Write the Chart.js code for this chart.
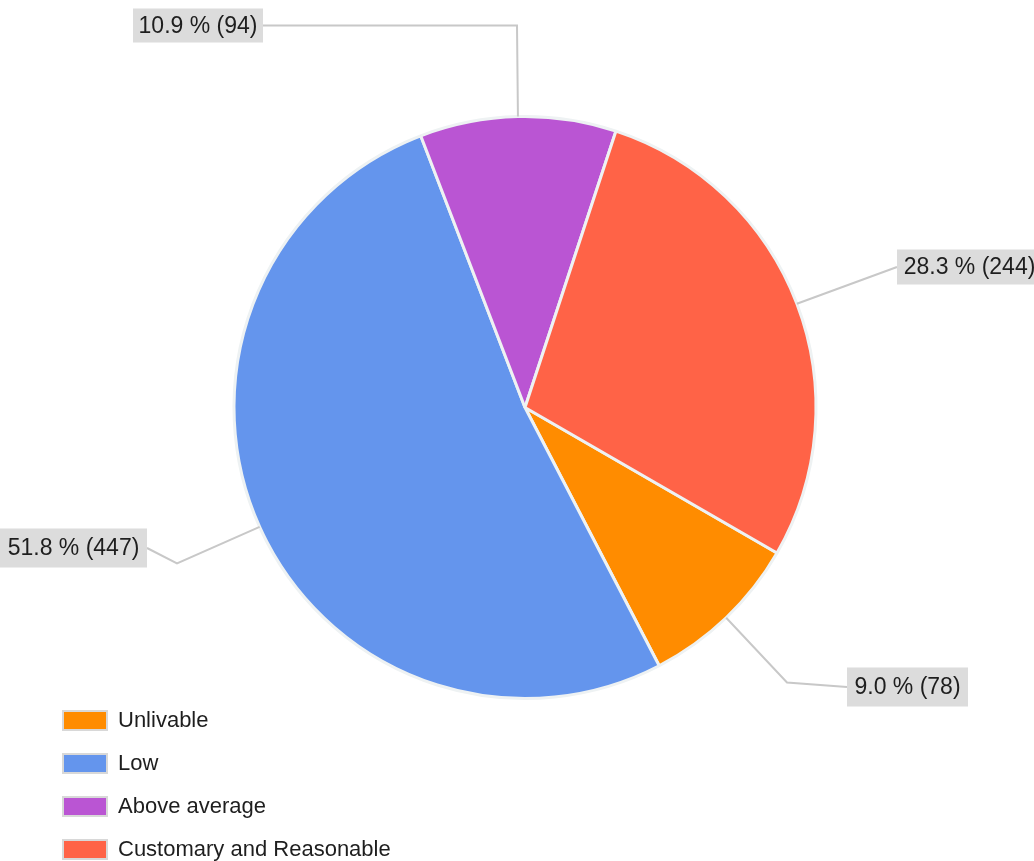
<!DOCTYPE html>
<html lang="en">
<head>
  <meta charset="UTF-8">
  <title>Pie chart</title>
  <script src="https://cdn.jsdelivr.net/npm/chart.js"></script>
  <style>
    body { margin: 0; background: #fff; }
  </style>
</head>
<body>
  <canvas id="myChart" width="1034" height="861"></canvas>
  <script>
    // data
    const categories = ['Unlivable', 'Low', 'Above average', 'Customary and Reasonable'];
    const counts = [78, 447, 94, 244];
    const percentLabels = ['9.0 %', '51.8 %', '10.9 %', '28.3 %'];
    const sliceColors = ['#FF8C00', '#6495ED', '#BA55D3', '#FF6347'];

    // where each outside label sits: elbow point and box, relative to the pie centre
    const labelLayout = [
      { elbow: [262, 275], box: [322, 260, 121, 39], side: 'left' },
      { elbow: [-348, 156], box: [-525, 121, 147, 39], side: 'right' },
      { elbow: [-8, -382], box: [-392, -399, 130, 34], side: 'right' },
      { elbow: null, box: [372, -158, 145, 35], side: 'left' }
    ];

    const labelPlugin = {
      id: 'outsideLabels',
      afterDatasetsDraw(chart) {
        const ctx = chart.ctx;
        const arcs = chart.getDatasetMeta(0).data;
        ctx.save();
        arcs.forEach((arc, i) => {
          const cx = arc.x, cy = arc.y;
          const mid = (arc.startAngle + arc.endAngle) / 2;
          const r = arc.outerRadius;
          const ax = cx + Math.cos(mid) * r;
          const ay = cy + Math.sin(mid) * r;
          const lay = labelLayout[i];
          const [bx, by, bw, bh] = lay.box;
          const boxX = cx + bx, boxY = cy + by;
          const endX = lay.side === 'left' ? boxX : boxX + bw;
          const endY = boxY + bh / 2;

          ctx.strokeStyle = '#c8c8c8';
          ctx.lineWidth = 2;
          ctx.beginPath();
          ctx.moveTo(ax, ay);
          if (lay.elbow) ctx.lineTo(cx + lay.elbow[0], cy + lay.elbow[1]);
          ctx.lineTo(endX, endY);
          ctx.stroke();

          ctx.fillStyle = '#dcdcdc';
          ctx.fillRect(boxX, boxY, bw, bh);
          ctx.fillStyle = '#1e1e1e';
          ctx.font = '23px "Liberation Sans", Arial, sans-serif';
          ctx.textBaseline = 'middle';
          ctx.textAlign = 'center';
          ctx.fillText(percentLabels[i] + ' (' + counts[i] + ')', boxX + bw / 2, endY + 1);
        });
        ctx.restore();
      }
    };

    const legendPlugin = {
      id: 'sideLegend',
      afterDraw(chart) {
        const ctx = chart.ctx;
        ctx.save();
        ctx.font = '22px "Liberation Sans", Arial, sans-serif';
        ctx.textBaseline = 'middle';
        ctx.textAlign = 'left';
        chart.data.labels.forEach((name, i) => {
          const y = 720 + i * 43;
          ctx.fillStyle = '#d8d8d8';
          ctx.fillRect(62, y - 10, 46, 21);
          ctx.fillStyle = chart.data.datasets[0].backgroundColor[i];
          ctx.fillRect(64, y - 8, 42, 17);
          ctx.fillStyle = '#1e1e1e';
          ctx.fillText(name, 118, y + 1);
        });
        ctx.restore();
      }
    };

    const ctx = document.getElementById('myChart').getContext('2d');
    const myChart = new Chart(ctx, {
      type: 'pie',
      data: {
        labels: categories,
        datasets: [{
          data: counts,
          backgroundColor: sliceColors,
          borderColor: '#eef2f3',
          borderWidth: 3
        }]
      },
      options: {
        responsive: false,
        animation: false,
        devicePixelRatio: 1,
        rotation: 120,
        layout: {
          padding: { top: 115, bottom: 161, left: 200, right: 184 }
        },
        plugins: {
          legend: { display: false },
          tooltip: { enabled: false }
        }
      },
      plugins: [labelPlugin, legendPlugin]
    });
  </script>
</body>
</html>
